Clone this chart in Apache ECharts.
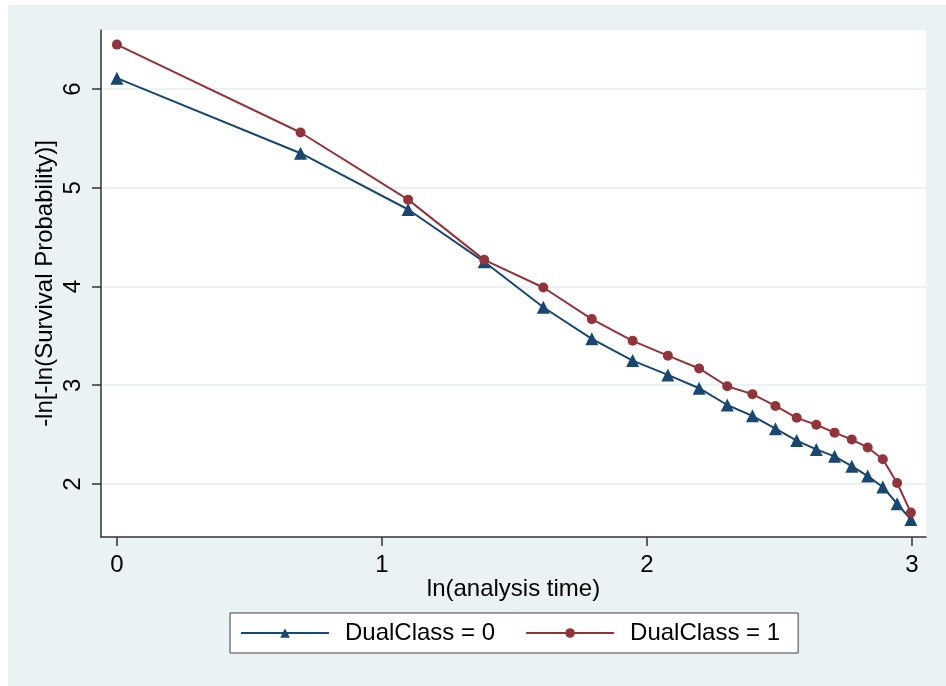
<!DOCTYPE html>
<html>
<head>
<meta charset="utf-8">
<script src="https://cdn.jsdelivr.net/npm/echarts@6/dist/echarts.min.js"></script>
<style>
html,body{margin:0;padding:0;background:#ffffff;}
#chart{position:absolute;left:8px;top:5px;width:938px;height:681px;}
</style>
</head>
<body>
<div id="chart"></div>
<script>
// ln(analysis time) values of the plotted points
const lnTime = [0, 0.693, 1.099, 1.386, 1.609, 1.792, 1.946, 2.079, 2.197, 2.303, 2.398, 2.485, 2.565, 2.639, 2.708, 2.773, 2.833, 2.890, 2.944, 2.996];
// -ln[-ln(S)] for DualClass = 0
const dualClass0 = [6.11, 5.35, 4.78, 4.25, 3.79, 3.47, 3.25, 3.105, 2.97, 2.80, 2.69, 2.56, 2.44, 2.35, 2.28, 2.18, 2.08, 1.97, 1.80, 1.64];
// -ln[-ln(S)] for DualClass = 1
const dualClass1 = [6.45, 5.56, 4.88, 4.27, 3.99, 3.67, 3.45, 3.30, 3.17, 2.99, 2.91, 2.79, 2.67, 2.60, 2.52, 2.45, 2.37, 2.25, 2.01, 1.71];
const xTicks = [0, 1, 2, 3];
const yTicks = [2, 3, 4, 5, 6];
const seriesNames = ['DualClass = 0', 'DualClass = 1'];

const FONT = "'Liberation Sans', Arial, sans-serif";
const pairs = (xs, ys) => xs.map((x, i) => [x, ys[i]]);

const chart = echarts.init(document.getElementById('chart'), null, {renderer: 'canvas'});
chart.setOption({
  animation: false,
  backgroundColor: '#eaf2f3',
  textStyle: {fontFamily: FONT},
  grid: {
    left: 93, right: 20, top: 25, bottom: 149,
    show: true, backgroundColor: '#ffffff', borderWidth: 0
  },
  xAxis: {
    type: 'value',
    min: -0.06, max: 3.053,
    name: 'ln(analysis time)',
    nameLocation: 'middle',
    nameGap: 40,
    nameMoveOverlap: false,
    nameTextStyle: {fontSize: 24, color: '#000', fontFamily: FONT},
    axisLine: {show: true, onZero: false, lineStyle: {color: '#333333', width: 1.5}},
    axisTick: {show: true, length: 9, customValues: xTicks, lineStyle: {color: '#333333', width: 1.5}},
    axisLabel: {customValues: xTicks, fontSize: 24, color: '#000', margin: 16, fontFamily: FONT},
    splitLine: {show: false}
  },
  yAxis: {
    type: 'value',
    min: 1.463, max: 6.598,
    name: '-ln[-ln(Survival Probability)]',
    nameLocation: 'middle',
    nameRotate: 90,
    nameGap: 44,
    nameMoveOverlap: false,
    nameTextStyle: {fontSize: 24, color: '#000', fontFamily: FONT},
    axisLine: {show: true, onZero: false, lineStyle: {color: '#333333', width: 1.5}},
    axisTick: {show: true, length: 9, customValues: yTicks, lineStyle: {color: '#333333', width: 1.5}},
    axisLabel: {customValues: yTicks, rotate: 90, fontSize: 24, color: '#000', margin: 16, fontFamily: FONT},
    splitLine: {show: true, lineStyle: {color: '#eaf2f3', width: 2}}
  },
  legend: {
    data: seriesNames,
    left: 222, top: 608,
    orient: 'horizontal',
    backgroundColor: '#ffffff',
    borderColor: '#404040', borderWidth: 1, borderRadius: 0,
    padding: [8, 18, 8, 10],
    itemGap: 30,
    itemWidth: 88, itemHeight: 12,
    textStyle: {fontSize: 24, color: '#000', fontFamily: FONT, padding: [0, 0, 0, 11]}
  },
  series: [
    {
      name: seriesNames[0],
      type: 'line',
      data: pairs(lnTime, dualClass0),
      symbol: 'triangle', symbolSize: 13,
      lineStyle: {color: '#1a476f', width: 2},
      itemStyle: {color: '#1a476f'},
      z: 2
    },
    {
      name: seriesNames[1],
      type: 'line',
      data: pairs(lnTime, dualClass1),
      symbol: 'circle', symbolSize: 10,
      lineStyle: {color: '#90353b', width: 2},
      itemStyle: {color: '#90353b'},
      z: 3
    }
  ]
});
</script>
</body>
</html>
